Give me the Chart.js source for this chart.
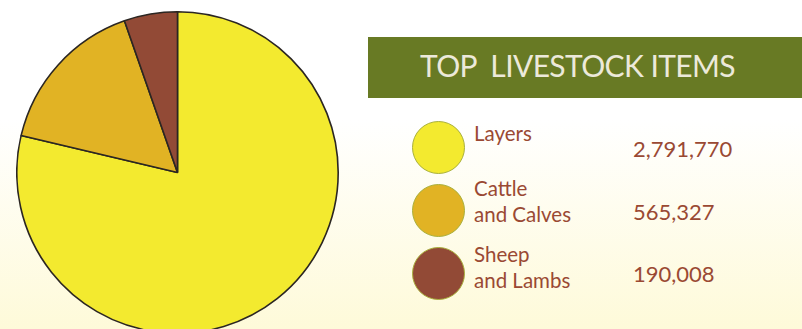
<!DOCTYPE html>
<html>
<head>
<meta charset="utf-8">
<script src="https://cdn.jsdelivr.net/npm/chart.js@4"></script>
<style>
  html, body {
    margin: 0;
    padding: 0;
    width: 802px;
    height: 329px;
    overflow: hidden;
  }
  body {
    position: relative;
    background: linear-gradient(to bottom, #ffffff 0px, #ffffff 120px, #fefad9 329px);
    font-family: Lato, "Open Sans", sans-serif;
  }
  #pieBox {
    position: absolute;
    left: 16px;
    top: 11px;
    width: 323px;
    height: 323px;
  }
  #title {
    position: absolute;
    left: 368px;
    top: 37px;
    width: 434px;
    height: 61px;
    background: #687a24;
    color: #ece9da;
    font-size: 30px;
    letter-spacing: -0.6px;
    line-height: 56px;
    white-space: pre;
    box-sizing: border-box;
    padding-left: 52px;
  }
  .swatch {
    position: absolute;
    left: 412px;
    width: 51px;
    height: 51px;
    border-radius: 50%;
    border: 1px solid #a9b03c;
  }
  .name, .value {
    position: absolute;
    color: #9a4933;
    white-space: pre;
  }
  .name {
    left: 474px;
    font-size: 20.5px;
    line-height: 26px;
  }
  .value {
    left: 633px;
    font-size: 22px;
    line-height: 26px;
  }
</style>
</head>
<body>
<div id="pieBox"><canvas id="pieChart"></canvas></div>
<div id="title">TOP  LIVESTOCK ITEMS</div>
<div id="legend"></div>
<script>
// Livestock counts, largest first (clockwise from 12 o'clock)
const labels = ["Layers", "Cattle\nand Calves", "Sheep\nand Lambs"];
const values = [2791770, 565327, 190008];
const colors = ["#f3ea2f", "#e1b324", "#924a36"];

// Row tops for the legend entries, and where the name / value text sits in each row
const rowTops = [121, 184, 247];
const nameTops = [120, 175, 241];
const valueTops = [136, 199, 261];

const legend = document.getElementById("legend");
labels.forEach((label, i) => {
  const swatch = document.createElement("div");
  swatch.className = "swatch";
  swatch.style.top = rowTops[i] + "px";
  swatch.style.background = colors[i];
  legend.appendChild(swatch);

  const name = document.createElement("div");
  name.className = "name";
  name.style.top = nameTops[i] + "px";
  name.textContent = label;
  legend.appendChild(name);

  const value = document.createElement("div");
  value.className = "value";
  value.style.top = valueTops[i] + "px";
  value.textContent = values[i].toLocaleString("en-US");
  legend.appendChild(value);
});

const ctx = document.getElementById("pieChart").getContext("2d");
new Chart(ctx, {
  type: "pie",
  data: {
    labels: labels.map(l => l.replace("\n", " ")),
    datasets: [{
      data: values,
      backgroundColor: colors,
      borderColor: "#2b2622",
      borderWidth: 1.6
    }]
  },
  options: {
    responsive: true,
    maintainAspectRatio: false,
    animation: false,
    layout: { padding: 0 },
    plugins: {
      legend: { display: false },
      tooltip: { enabled: false }
    }
  }
});
</script>
</body>
</html>
